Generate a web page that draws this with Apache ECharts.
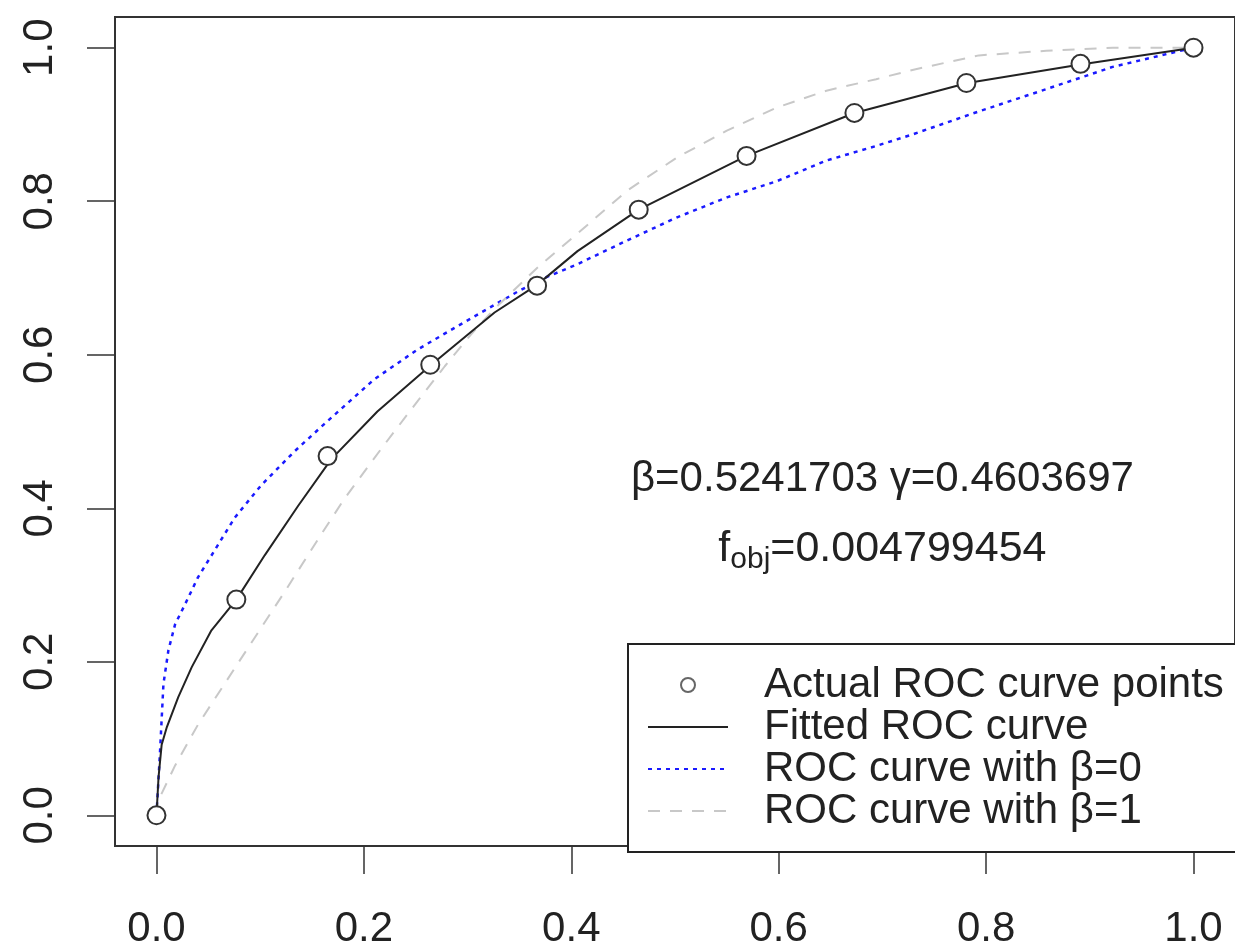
<!DOCTYPE html>
<html><head><meta charset="utf-8">
<script src="https://cdn.jsdelivr.net/npm/echarts@6/dist/echarts.min.js"></script>
<style>html,body{margin:0;padding:0;background:#fff}#c{width:1235px;height:950px}</style>
</head><body><div id="c"></div>
<script>
const tickValues = [0, 0.2, 0.4, 0.6, 0.8, 1.0];
const tickLabels = ['0.0', '0.2', '0.4', '0.6', '0.8', '1.0'];
const seriesNames = ['Actual ROC curve points', 'Fitted ROC curve', 'ROC curve with β=0', 'ROC curve with β=1'];
const rocX = [0, 0.077, 0.165, 0.264, 0.367, 0.465, 0.569, 0.673, 0.781, 0.891, 1];
const rocY = [0, 0.281, 0.468, 0.587, 0.690, 0.789, 0.859, 0.915, 0.954, 0.979, 1];
const fittedX = [0, 0.002, 0.005, 0.01, 0.021, 0.034, 0.053, 0.077, 0.1045, 0.1365, 0.1686, 0.213, 0.265, 0.326, 0.367, 0.406, 0.465, 0.569, 0.673, 0.782, 0.891, 1];
const fittedY = [0, 0.05, 0.092, 0.115, 0.154, 0.193, 0.241, 0.281, 0.339, 0.403, 0.464, 0.526, 0.587, 0.655, 0.691, 0.735, 0.789, 0.859, 0.915, 0.954, 0.978, 1];
const beta0X = [0, 0.0035, 0.0067, 0.0115, 0.018, 0.0276, 0.040, 0.056, 0.0756, 0.101, 0.133, 0.162, 0.21, 0.252, 0.29, 0.326, 0.348, 0.374, 0.406, 0.454, 0.502, 0.55, 0.598, 0.646, 0.694, 0.729, 0.793, 0.858, 0.922, 1];
const beta0Y = [0, 0.085, 0.171, 0.215, 0.249, 0.275, 0.31, 0.345, 0.388, 0.43, 0.474, 0.51, 0.568, 0.607, 0.637, 0.665, 0.682, 0.70, 0.718, 0.749, 0.779, 0.805, 0.826, 0.853, 0.872, 0.887, 0.917, 0.946, 0.975, 1];
const beta1X = [0, 0.002, 0.018, 0.040, 0.066, 0.095, 0.124, 0.156, 0.181, 0.217, 0.252, 0.278, 0.303, 0.326, 0.367, 0.406, 0.454, 0.502, 0.55, 0.598, 0.646, 0.694, 0.729, 0.793, 0.858, 0.922, 1];
const beta1Y = [0, 0.02, 0.065, 0.118, 0.172, 0.232, 0.292, 0.36, 0.412, 0.478, 0.54, 0.585, 0.626, 0.66, 0.713, 0.758, 0.814, 0.857, 0.892, 0.922, 0.944, 0.959, 0.971, 0.99, 0.996, 1.0, 1.0];
const annotationLine1 = 'β=0.5241703 γ=0.4603697';
const annotationMain = 'f';
const annotationSub = 'obj';
const annotationRest = '=0.004799454';

const pairs = (xs, ys) => xs.map((x, i) => [x, ys[i]]);
const FONT = '"Liberation Sans", Arial, sans-serif';
const chart = echarts.init(document.getElementById('c'), null, {renderer: 'canvas'});

const axisCommon = {
  type: 'value', min: -0.04, max: 1.04,
  splitLine: {show: false},
  axisLine: {show: true, onZero: false, lineStyle: {color: '#333', width: 2}},
  axisTick: {show: true, customValues: tickValues, length: 28, lineStyle: {color: '#333', width: 1.5}},
};
const labelFmt = v => tickLabels[tickValues.indexOf(+(+v).toFixed(1))] || (+v).toFixed(1);
const hiddenSymbol = {color: 'rgba(0,0,0,0)', borderColor: 'rgba(0,0,0,0)', borderWidth: 0, opacity: 0};

const baseOption = {
  animation: false,
  backgroundColor: '#fff',
  grid: {left: 115, right: -4, top: 17, bottom: 100, show: true, borderColor: '#333', borderWidth: 2, backgroundColor: 'transparent'},
  xAxis: Object.assign({}, axisCommon, {
    axisLabel: {customValues: tickValues, formatter: labelFmt, fontSize: 42, fontFamily: FONT, color: '#222', margin: 62}
  }),
  yAxis: Object.assign({}, axisCommon, {
    axisLabel: {customValues: tickValues, formatter: labelFmt, rotate: 90, fontSize: 42, fontFamily: FONT, color: '#222', margin: 54}
  }),
  legend: {
    show: true, orient: 'vertical', left: 647, top: 664, padding: 0, itemGap: 0,
    itemWidth: 80, itemHeight: 14,
    textStyle: {fontSize: 42, fontFamily: FONT, color: '#222', lineHeight: 38, padding: [0, 0, 0, 31]},
    data: [
      {name: seriesNames[0], icon: 'circle', itemStyle: {color: '#fff', borderColor: '#666', borderWidth: 2}},
      {name: seriesNames[1], itemStyle: hiddenSymbol},
      {name: seriesNames[2], itemStyle: hiddenSymbol},
      {name: seriesNames[3], itemStyle: hiddenSymbol}
    ]
  },
  series: [
    {name: seriesNames[2], type: 'line', data: pairs(beta0X, beta0Y), showSymbol: false, symbol: 'none', z: 2,
      lineStyle: {color: '#1a1aff', width: 2.5, type: [4, 5]}, itemStyle: {color: '#1a1aff'}},
    {name: seriesNames[3], type: 'line', data: pairs(beta1X, beta1Y), showSymbol: false, symbol: 'none', z: 2,
      lineStyle: {color: '#c8c8c8', width: 2, type: [12, 10]}, itemStyle: {color: '#c8c8c8'}},
    {name: seriesNames[1], type: 'line', data: pairs(fittedX, fittedY), showSymbol: false, symbol: 'none', z: 3,
      lineStyle: {color: '#222', width: 2}, itemStyle: {color: '#222'}},
    {name: seriesNames[0], type: 'scatter', data: pairs(rocX, rocY), symbol: 'circle', symbolSize: 18, z: 4,
      itemStyle: {color: '#fff', borderColor: '#333', borderWidth: 2, opacity: 1}}
  ]
};
chart.setOption(baseOption);

// position annotation text at data coordinates
const p1 = chart.convertToPixel({gridIndex: 0}, [0.7, 0.438]);
const p2 = chart.convertToPixel({gridIndex: 0}, [0.7, 0.347]);
chart.setOption({graphic: [
  {type: 'rect', left: 627, top: 643, z: 3, shape: {width: 700, height: 208}, style: {fill: '#fff', stroke: '#222', lineWidth: 2}},
  {type: 'text', z: 5, x: p1[0], y: p1[1], style: {
    text: annotationLine1, fontSize: 42, fontFamily: FONT, fill: '#222', align: 'center', verticalAlign: 'middle'}},
  {type: 'text', z: 5, x: p2[0], y: p2[1], style: {
    text: '{m|' + annotationMain + '}{s|' + annotationSub + '}{m|' + annotationRest + '}',
    align: 'center', verticalAlign: 'middle',
    rich: {m: {fontSize: 43, fontFamily: FONT, fill: '#222', lineHeight: 52}, s: {fontSize: 30, fontFamily: FONT, fill: '#222', lineHeight: 30, padding: [22, 0, 0, 0]}}
  }}
]});
</script></body></html>
